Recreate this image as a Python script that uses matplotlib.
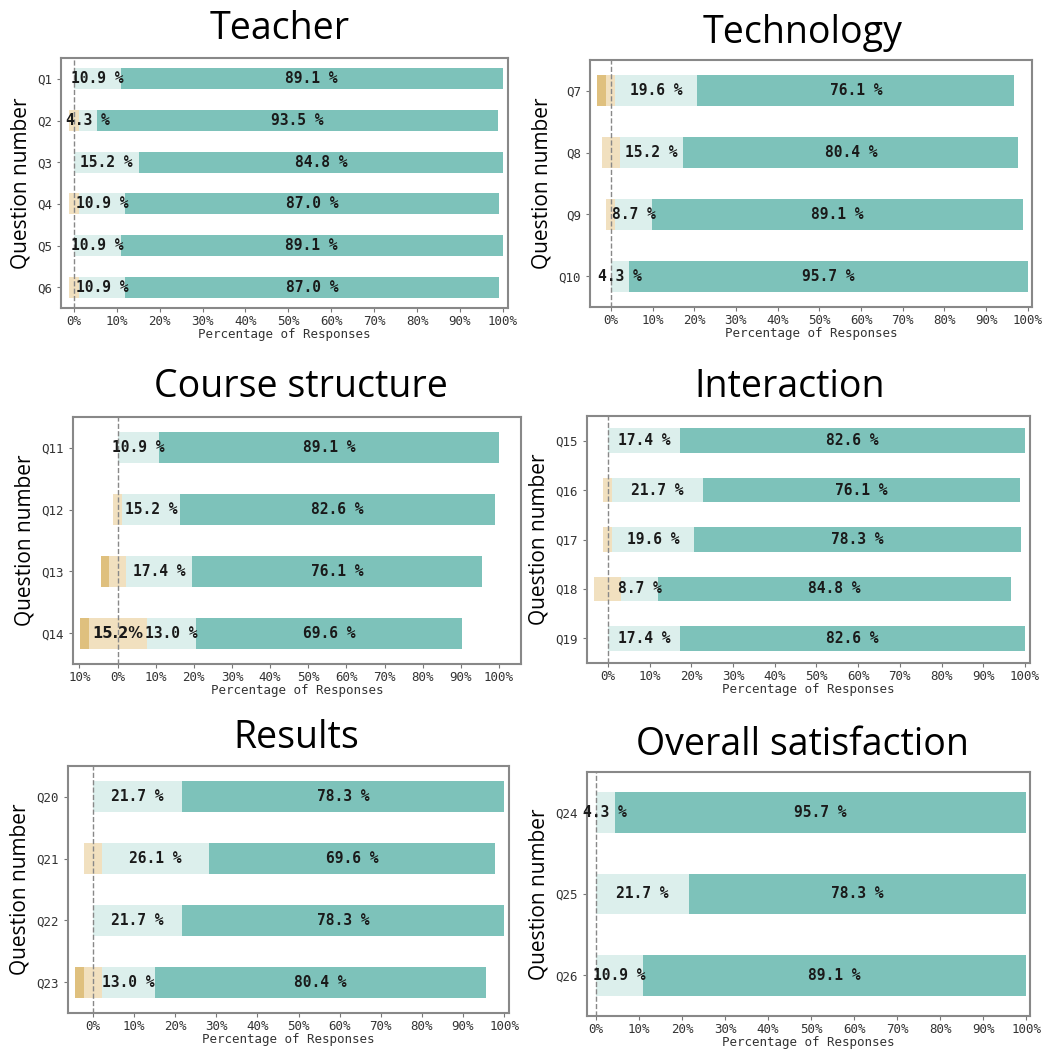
import numpy as np
import matplotlib.pyplot as plt
from matplotlib.ticker import MultipleLocator, FuncFormatter

# Likert-style answers per question (percent of responses)
# dis = disagree (dark tan), neu = neutral (light tan, centred on 0),
# agr = agree (light teal), sagr = strongly agree (teal)
teacher_q = ['Q1', 'Q2', 'Q3', 'Q4', 'Q5', 'Q6']
teacher_dis = [0, 0, 0, 0, 0, 0]
teacher_neu = [0, 2.2, 0, 2.2, 0, 2.2]
teacher_agr = [10.9, 4.3, 15.2, 10.9, 10.9, 10.9]
teacher_sagr = [89.1, 93.5, 84.8, 87.0, 89.1, 87.0]

tech_q = ['Q7', 'Q8', 'Q9', 'Q10']
tech_dis = [2.2, 0, 0, 0]
tech_neu = [2.2, 4.3, 2.2, 0]
tech_agr = [19.6, 15.2, 8.7, 4.3]
tech_sagr = [76.1, 80.4, 89.1, 95.7]

course_q = ['Q11', 'Q12', 'Q13', 'Q14']
course_dis = [0, 0, 2.2, 2.2]
course_neu = [0, 2.2, 4.3, 15.2]
course_agr = [10.9, 15.2, 17.4, 13.0]
course_sagr = [89.1, 82.6, 76.1, 69.6]

inter_q = ['Q15', 'Q16', 'Q17', 'Q18', 'Q19']
inter_dis = [0, 0, 0, 0, 0]
inter_neu = [0, 2.2, 2.2, 6.5, 0]
inter_agr = [17.4, 21.7, 19.6, 8.7, 17.4]
inter_sagr = [82.6, 76.1, 78.3, 84.8, 82.6]

results_q = ['Q20', 'Q21', 'Q22', 'Q23']
results_dis = [0, 0, 0, 2.2]
results_neu = [0, 4.3, 0, 4.3]
results_agr = [21.7, 26.1, 21.7, 13.0]
results_sagr = [78.3, 69.6, 78.3, 80.4]

overall_q = ['Q24', 'Q25', 'Q26']
overall_dis = [0, 0, 0]
overall_neu = [0, 0, 0]
overall_agr = [4.3, 21.7, 10.9]
overall_sagr = [95.7, 78.3, 89.1]

colors = ['#dfc07e', '#f1e0bf', '#dcefec', '#7dc2ba']

W, H = 1059, 1053
fig = plt.figure(figsize=(W / 100, H / 100), dpi=100)

title_font = ['Open Sans', 'DejaVu Sans']
mono = 'DejaVu Sans Mono'


def panel(box, title, title_xy, qs, dis, neu, agr, sagr, xlim):
    left, top, right, bottom = box
    ax = fig.add_axes([left / W, 1 - bottom / H, (right - left) / W, (bottom - top) / H])
    y = np.arange(len(qs))
    dis, neu, agr, sagr = map(np.array, (dis, neu, agr, sagr))
    start = -(dis + neu / 2)
    parts = [dis, neu, agr, sagr]
    cum = start.copy()
    for k, (vals, c) in enumerate(zip(parts, colors)):
        ax.barh(y, vals, left=cum, height=0.5, color=c, zorder=2)
        for i, v in enumerate(vals):
            cx = cum[i] + v / 2
            if k >= 2 and v > 0:
                ax.text(cx, y[i], f'{v:.1f} %', ha='center', va='center',
                        family=mono, weight='bold', fontsize=10.5, color='#1a1a1a', zorder=4)
            elif k == 1 and v > 10:
                ax.text(cx, y[i], f'{v:.1f}%', ha='center', va='center',
                        weight='bold', fontsize=10.5, color='#1a1a1a', zorder=4)
        cum = cum + vals
    ax.axvline(0, color='#888888', ls='--', lw=1, zorder=3)
    ax.set_ylim(len(qs) - 0.5, -0.5)
    ax.set_xlim(*xlim)
    ax.set_yticks(y)
    ax.set_yticklabels(qs, family=mono, fontsize=9, color='#333333')
    ax.xaxis.set_major_locator(MultipleLocator(10))
    ax.xaxis.set_major_formatter(FuncFormatter(lambda v, p: f'{abs(int(round(v)))}%'))
    for lab in ax.get_xticklabels():
        lab.set_family(mono)
    ax.tick_params(axis='x', labelsize=9, labelcolor='#333333', color='#777777', length=3, pad=2)
    ax.tick_params(axis='y', color='#777777', length=3)
    for s in ax.spines.values():
        s.set_color('#888888')
        s.set_linewidth(1.5)
    ax.set_xlabel('Percentage of Responses', family=mono, fontsize=9, color='#333333', labelpad=0)
    ax.set_ylabel('Question number', family=title_font, fontsize=15, labelpad=4)
    fig.text(title_xy[0] / W, 1 - title_xy[1] / H, title, ha='center', va='center',
             family=title_font, fontsize=27)
    return ax


panel((61, 58, 508, 308), 'Teacher', (280, 29), teacher_q,
      teacher_dis, teacher_neu, teacher_agr, teacher_sagr, (-3.0, 101.2))
panel((590, 60, 1032, 307), 'Technology', (803, 33), tech_q,
      tech_dis, tech_neu, tech_agr, tech_sagr, (-5.0, 101.0))
panel((73, 417, 521, 664), 'Course structure', (301, 387), course_q,
      course_dis, course_neu, course_agr, course_sagr, (-11.7, 105.8))
panel((587, 416, 1030, 663), 'Interaction', (790, 387), inter_q,
      inter_dis, inter_neu, inter_agr, inter_sagr, (-5.0, 101.2))
panel((68, 766, 509, 1013), 'Results', (296, 738), results_q,
      results_dis, results_neu, results_agr, results_sagr, (-6.1, 101.2))
panel((587, 772, 1030, 1016), 'Overall satisfaction', (802, 745), overall_q,
      overall_dis, overall_neu, overall_agr, overall_sagr, (-2.1, 100.9))

fig.savefig('out.png', dpi=100)
